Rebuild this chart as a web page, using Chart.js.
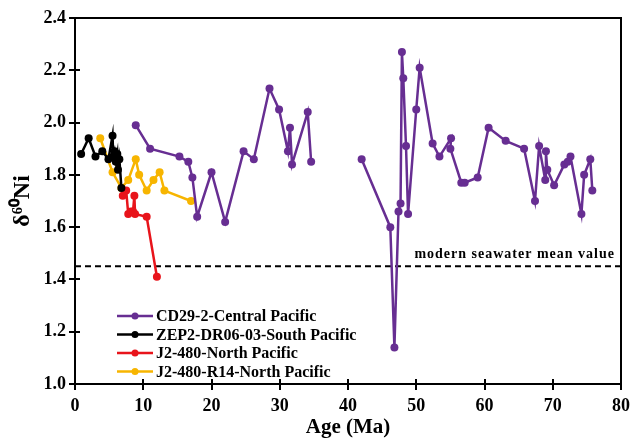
<!DOCTYPE html>
<html>
<head>
<meta charset="utf-8">
<script src="https://cdn.jsdelivr.net/npm/chart.js@4/dist/chart.umd.min.js"></script>
<style>
  html, body { margin: 0; padding: 0; background: #fff; }
  #wrap { width: 632px; height: 440px; }
</style>
</head>
<body>
<div id="wrap"><canvas id="niPlot" width="632" height="440"></canvas></div>
<script>
// CD29-2 Central Pacific (null = break in the line)
const cdAge = [8.9, 11.0, 15.3, 16.6, 17.2, 17.9, 20.0, 22.0, 24.7, 26.2, 28.5, 29.9, 31.2, 31.5, 31.8, 34.1, 34.6, null,
  42.0, 46.2, 46.8, 47.4, 47.7, 47.9, 48.1, 48.5, 48.8, 50.0, 50.5, 52.4, 53.4, 55.1, 55.0, 56.6, 57.1, 59.0, 60.6,
  63.1, 65.8, 67.4, 68.0, 68.9, 69.0, 69.2, 70.2, 71.7, 72.2, 72.6, 74.2, 74.6, 75.5, 75.8];
const cdNi = [1.99, 1.90, 1.87, 1.85, 1.79, 1.64, 1.81, 1.62, 1.89, 1.86, 2.13, 2.05, 1.89, 1.98, 1.84, 2.04, 1.85, null,
  1.86, 1.60, 1.14, 1.66, 1.69, 2.27, 2.17, 1.91, 1.65, 2.05, 2.21, 1.92, 1.87, 1.94, 1.90, 1.77, 1.77, 1.79, 1.98,
  1.93, 1.90, 1.70, 1.91, 1.78, 1.89, 1.82, 1.76, 1.84, 1.85, 1.87, 1.65, 1.80, 1.86, 1.74];

// ZEP2-DR06-03 South Pacific
const zepAge = [0.9, 2.0, 3.0, 4.0, 4.9, 5.5, 5.6, 5.8, 6.0, 6.2, 6.3, 6.5, 6.8];
const zepNi = [1.88, 1.94, 1.87, 1.89, 1.86, 1.95, 1.87, 1.89, 1.85, 1.88, 1.82, 1.86, 1.75];

// J2-480 North Pacific
const j2Age = [7.0, 7.5, 7.8, 8.2, 8.5, 8.7, 8.8, 10.5, 12.0];
const j2Ni = [1.72, 1.74, 1.65, 1.66, 1.66, 1.72, 1.65, 1.64, 1.41];

// J2-480-R14 North Pacific
const r14Age = [3.7, 5.5, 6.8, 7.8, 8.9, 9.4, 10.5, 11.5, 12.4, 13.1, 17.0];
const r14Ni = [1.94, 1.81, 1.75, 1.78, 1.86, 1.80, 1.74, 1.78, 1.81, 1.74, 1.70];

const seriesNames = ['CD29-2-Central Pacific', 'ZEP2-DR06-03-South Pacific', 'J2-480-North Pacific', 'J2-480-R14-North Pacific'];
const seriesColors = ['#672e92', '#000000', '#e8141b', '#f7b500'];

const seawaterMean = 1.45;
const seawaterLabel = 'modern seawater mean value';
const ageRange = [0, 80];
const niRange = [1.0, 2.4];

function toPoints(xs, ys) {
  return xs.map((x, i) => ({ x: x, y: ys[i] }));
}

const serif = "'Liberation Serif', 'Times New Roman', serif";

function seriesDataset(i, xs, ys) {
  return {
    label: seriesNames[i],
    data: toPoints(xs, ys),
    showLine: true,
    spanGaps: false,
    borderColor: seriesColors[i],
    backgroundColor: seriesColors[i],
    borderWidth: 2.5,
    pointRadius: 4,
    pointBorderWidth: 0,
    pointHoverRadius: 4
  };
}

// ticks that cross the axis line, plus the box, seawater label and legend
const framePlugin = {
  id: 'frame',
  afterDatasetsDraw(chart) {
    const ctx = chart.ctx;
    const a = chart.chartArea;
    const xs = chart.scales.x, ys = chart.scales.y;
    ctx.save();
    ctx.strokeStyle = '#000';
    ctx.lineWidth = 2;
    ctx.strokeRect(a.left, a.top, a.right - a.left, a.bottom - a.top);
    ctx.beginPath();
    ys.ticks.forEach(t => {
      const py = Math.round(ys.getPixelForValue(t.value));
      ctx.moveTo(a.left - 6, py);
      ctx.lineTo(a.left + 5, py);
    });
    xs.ticks.forEach(t => {
      const px = Math.round(xs.getPixelForValue(t.value));
      ctx.moveTo(px, a.bottom - 5);
      ctx.lineTo(px, a.bottom + 6);
    });
    ctx.stroke();

    ctx.fillStyle = '#000';
    ctx.font = 'bold 14px ' + serif;
    ctx.letterSpacing = '1px';
    ctx.textAlign = 'right';
    ctx.textBaseline = 'alphabetic';
    ctx.fillText(seawaterLabel, a.right - 6, ys.getPixelForValue(seawaterMean) - 8);

    // legend
    ctx.letterSpacing = '0px';
    ctx.font = 'bold 16px ' + serif;
    ctx.textAlign = 'left';
    ctx.textBaseline = 'middle';
    seriesNames.forEach((name, i) => {
      const ly = 316 + i * 18.5;
      ctx.strokeStyle = seriesColors[i];
      ctx.fillStyle = seriesColors[i];
      ctx.lineWidth = 2.5;
      ctx.beginPath();
      ctx.moveTo(117, ly);
      ctx.lineTo(153, ly);
      ctx.stroke();
      ctx.beginPath();
      ctx.arc(135, ly, 3.5, 0, Math.PI * 2);
      ctx.fill();
      ctx.fillStyle = '#000';
      ctx.fillText(name, 156, ly + 1);
    });
    ctx.restore();
  }
};

const ctx = document.getElementById('niPlot').getContext('2d');
new Chart(ctx, {
  type: 'scatter',
  data: {
    datasets: [
      seriesDataset(0, cdAge, cdNi),
      seriesDataset(1, zepAge, zepNi),
      seriesDataset(2, j2Age, j2Ni),
      seriesDataset(3, r14Age, r14Ni),
      {
        label: 'seawater',
        data: [{ x: ageRange[0], y: seawaterMean }, { x: ageRange[1], y: seawaterMean }],
        showLine: true,
        borderColor: '#000',
        borderWidth: 2,
        borderDash: [6, 4],
        pointRadius: 0,
        order: 5
      }
    ]
  },
  options: {
    responsive: false,
    animation: false,
    layout: { padding: { left: 0, top: 18, right: 11, bottom: 0 } },
    plugins: { legend: { display: false }, tooltip: { enabled: false } },
    scales: {
      x: {
        type: 'linear',
        min: ageRange[0],
        max: ageRange[1],
        afterFit: s => { s.height = 56; s.paddingLeft = 0; s.paddingRight = 0; },
        grid: { display: false, drawTicks: false },
        border: { display: false },
        ticks: { stepSize: 10, padding: 12, color: '#000', font: { family: serif, size: 18, weight: 'bold' } },
        title: { display: true, text: 'Age (Ma)', color: '#000', padding: { top: 0, bottom: 0 }, font: { family: serif, size: 21, weight: 'bold' } }
      },
      y: {
        type: 'linear',
        min: niRange[0],
        max: niRange[1],
        afterFit: s => { s.width = 75; s.paddingTop = 0; s.paddingBottom = 0; },
        grid: { display: false, drawTicks: false },
        border: { display: false },
        ticks: { stepSize: 0.2, padding: 9, color: '#000', callback: v => v.toFixed(1), font: { family: serif, size: 18, weight: 'bold' } },
        title: { display: true, text: 'δ⁶⁰Ni', color: '#000', padding: { top: 8, bottom: 0 }, font: { family: serif, size: 24, weight: 'bold' } }
      }
    }
  },
  plugins: [framePlugin]
});
</script>
</body>
</html>
